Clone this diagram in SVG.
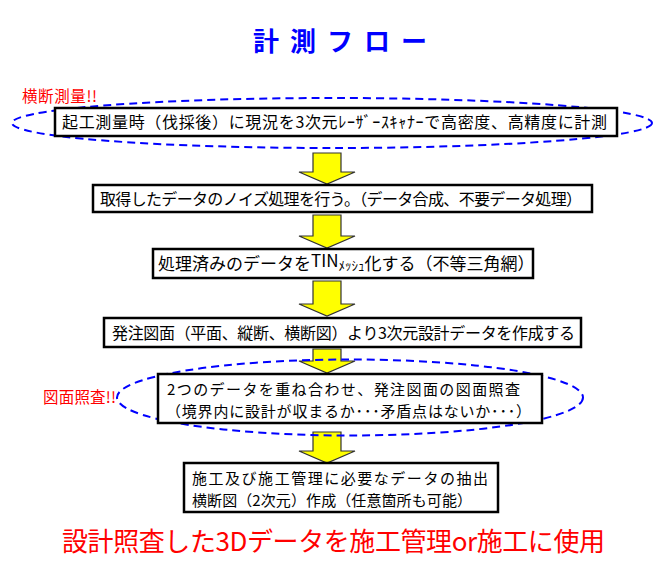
<svg xmlns="http://www.w3.org/2000/svg" width="665" height="573" viewBox="0 0 665 573">
<style>
text{font-family:"Noto Sans CJK JP","Noto Sans",sans-serif;}
.box{fill:#fff;stroke:#000;stroke-width:2.5;}
.t{font-size:16px;fill:#000;}
.t2{font-size:15px;fill:#000;}
.arrow{fill:#ffff00;stroke:#333;stroke-width:1.2;stroke-linejoin:miter;}
.ring{fill:none;stroke:#0000ff;stroke-width:2;stroke-dasharray:8 5;}
.red{fill:#ff0000;}
</style>
<rect width="665" height="573" fill="#fff"/>
<text x="253" y="51" font-size="26" font-weight="bold" fill="#0000ff" textLength="174" lengthAdjust="spacing">計 測 フ ロ ー</text>
<g id="connectors">
<path class="arrow" d="M313,153 H341 V172 H355 L327,184 L299,172 H313 Z"/>
<path class="arrow" d="M313,215 H341 V236 H355 L327,248 L299,236 H313 Z"/>
<path class="arrow" d="M313,281 H341 V304 H355 L327,316 L299,304 H313 Z"/>
<path class="arrow" d="M313,349 H341 V361 H355 L327,373 L299,361 H313 Z"/>
<path class="arrow" d="M313,432 H341 V451 H355 L327,463 L299,451 H313 Z"/>
</g>
<g id="survey-ring">
<ellipse class="ring" cx="332" cy="123" rx="320" ry="25"/>
<text class="red" x="22" y="102" font-size="15.5" textLength="75" lengthAdjust="spacing">横断測量!!</text>
</g>
<g id="check-ring">
<ellipse class="ring" cx="350" cy="397.5" rx="233" ry="38"/>
<text class="red" x="43" y="403" font-size="15.5" textLength="73" lengthAdjust="spacing">図面照査!!</text>
</g>
<g id="step1">
<rect class="box" x="55" y="108" width="562" height="28"/>
<text class="t" x="62" y="128" textLength="545" lengthAdjust="spacing">起工測量時（伐採後）に現況を3次元ﾚｰｻﾞｰｽｷｬﾅｰで高密度、高精度に計測</text>
</g>
<g id="step2">
<rect class="box" x="93" y="185" width="499" height="27"/>
<text class="t" x="100" y="205" textLength="482" lengthAdjust="spacing">取得したデータのノイズ処理を行う。（データ合成、不要データ処理）</text>
</g>
<g id="step3">
<rect class="box" x="153" y="249" width="380" height="29"/>
<text x="158" y="270" style="font-size:17px">処理済みのデータを<tspan dy="-3">TIN</tspan><tspan dy="3" style="font-size:13px">ﾒｯｼｭ</tspan>化する（不等三角網）</text>
</g>
<g id="step4">
<rect class="box" x="104" y="318" width="477" height="29"/>
<text class="t" x="112" y="339" textLength="463" lengthAdjust="spacing">発注図面（平面、縦断、横断図）より3次元設計データを作成する</text>
</g>
<g id="step5">
<rect class="box" x="158" y="374" width="384" height="49"/>
<text class="t2" x="167" y="395" textLength="353" lengthAdjust="spacing">2つのデータを重ね合わせ、発注図面の図面照査</text>
<text class="t2" x="166" y="417" textLength="365" lengthAdjust="spacing">（境界内に設計が収まるか･･･矛盾点はないか･･･）</text>
</g>
<g id="step6">
<rect class="box" x="184" y="463" width="314" height="49"/>
<text class="t2" x="192" y="484" textLength="296" lengthAdjust="spacing">施工及び施工管理に必要なデータの抽出</text>
<text class="t2" x="192" y="506" textLength="280" lengthAdjust="spacing">横断図（2次元）作成（任意箇所も可能）</text>
</g>
<text class="red" x="62" y="551" font-size="26" textLength="543" lengthAdjust="spacing">設計照査した3Dデータを施工管理or施工に使用</text>
</svg>
